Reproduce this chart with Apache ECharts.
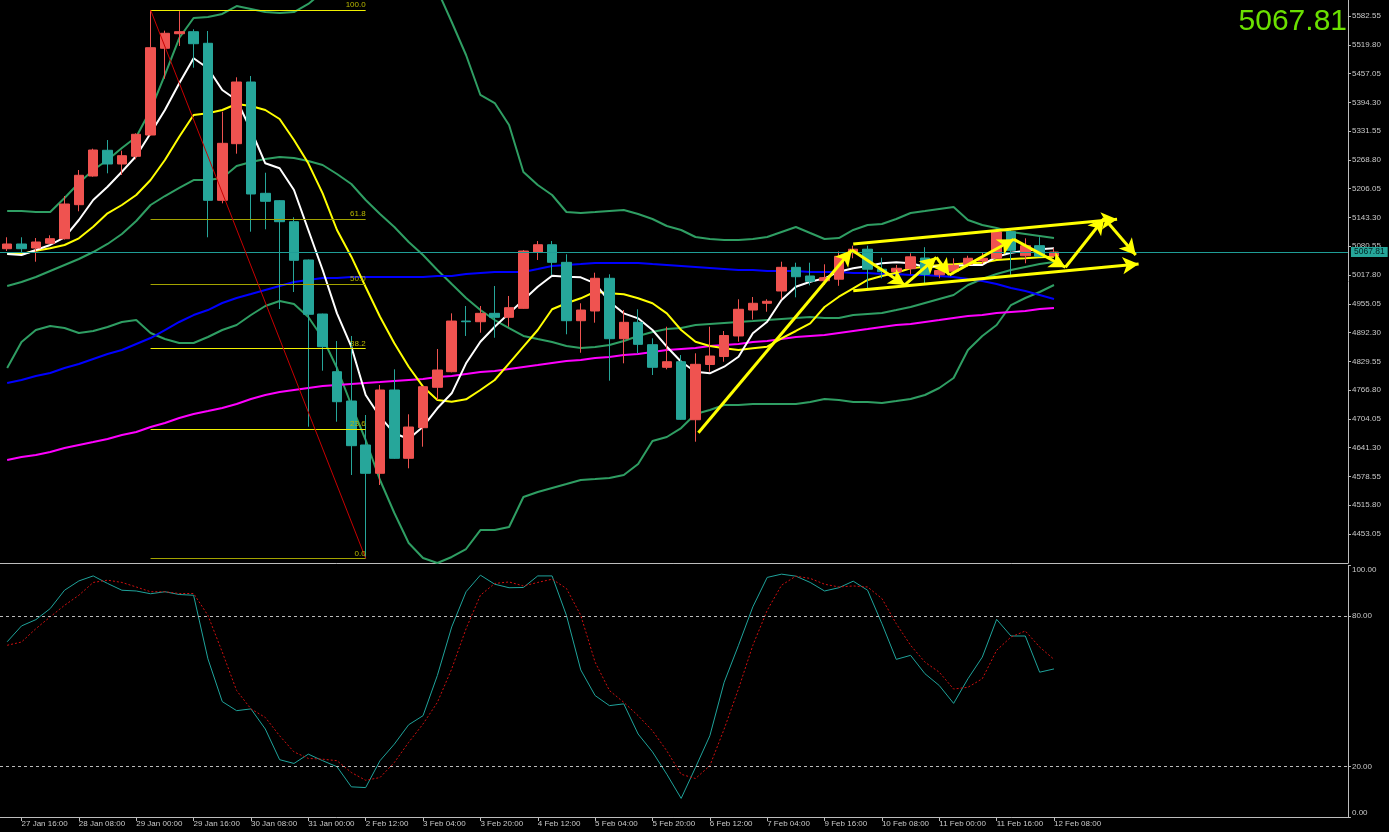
<!DOCTYPE html>
<html>
<head>
<meta charset="utf-8">
<script src="https://cdn.jsdelivr.net/npm/echarts@6/dist/echarts.min.js"></script>
<style>
html,body{margin:0;padding:0;background:#000;}
#chart{width:1389px;height:832px;}
</style>
</head>
<body>
<div id="chart"></div>
<script>
// ---------- DATA ----------
const barLabels = [
 '27 Jan 12:00','27 Jan 16:00','27 Jan 20:00','28 Jan 00:00','28 Jan 04:00','28 Jan 08:00','28 Jan 12:00','28 Jan 16:00',
 '28 Jan 20:00','29 Jan 00:00','29 Jan 04:00','29 Jan 08:00','29 Jan 12:00','29 Jan 16:00','29 Jan 20:00','30 Jan 00:00',
 '30 Jan 04:00','30 Jan 08:00','30 Jan 12:00','30 Jan 16:00','30 Jan 20:00','31 Jan 00:00','31 Jan 04:00','2 Feb 04:00',
 '2 Feb 08:00','2 Feb 12:00','2 Feb 16:00','2 Feb 20:00','3 Feb 00:00','3 Feb 04:00','3 Feb 08:00','3 Feb 12:00',
 '3 Feb 16:00','3 Feb 20:00','4 Feb 00:00','4 Feb 04:00','4 Feb 08:00','4 Feb 12:00','4 Feb 16:00','4 Feb 20:00',
 '5 Feb 00:00','5 Feb 04:00','5 Feb 08:00','5 Feb 12:00','5 Feb 16:00','5 Feb 20:00','6 Feb 00:00','6 Feb 04:00',
 '6 Feb 08:00','6 Feb 12:00','6 Feb 16:00','6 Feb 20:00','7 Feb 00:00','7 Feb 04:00','9 Feb 04:00','9 Feb 08:00',
 '9 Feb 12:00','9 Feb 16:00','9 Feb 20:00','10 Feb 00:00','10 Feb 04:00','10 Feb 08:00','10 Feb 12:00','10 Feb 16:00',
 '10 Feb 20:00','11 Feb 00:00','11 Feb 04:00','11 Feb 08:00','11 Feb 12:00','11 Feb 16:00','11 Feb 20:00','12 Feb 00:00',
 '12 Feb 04:00','12 Feb 08:00'
];
const futureSlots = 20;

const opens = [5075.1,5085.4,5076.6,5086.9,5096.9,5171.1,5233.6,5289.7,5259.8,5276.6,5323.0,5512.1,5543.9,5548.3,5523.0,5180.6,
 5304.1,5438.6,5195.9,5179.8,5134.0,5050.5,4932.7,4806.9,4743.0,4647.1,4585.4,4767.0,4618.1,4684.8,4772.9,4806.9,
 4917.4,4915.9,4934.2,4925.5,4945.1,5067.9,5083.8,5045.4,4918.1,4939.3,5010.6,4878.9,4914.6,4865.8,4816.5,4828.7,
 4702.2,4822.6,4840.0,4884.8,4941.4,4956.1,4982.9,5034.5,5015.6,5005.3,5008.6,5066.2,5074.0,5030.4,5025.0,5031.5,
 5054.8,5018.2,5026.0,5041.3,5048.3,5054.2,5112.2,5059.6,5081.7,5059.2];
const highs = [5100.0,5100.0,5098.4,5104.3,5190.0,5246.7,5293.2,5312.1,5288.8,5326.7,5595.6,5550.5,5593.0,5553.5,5549.8,5373.8,
 5448.8,5451.7,5240.8,5181.0,5143.6,5051.5,4933.5,4873.8,4884.8,4712.5,4777.9,4812.1,4714.0,4775.7,4856.4,4934.2,
 4950.2,4950.2,4993.8,4972.0,5072.3,5091.9,5091.9,5062.9,4956.1,5022.8,5019.3,4941.4,4943.0,4879.7,4905.0,4843.3,
 4847.0,4905.0,4895.7,4964.8,4969.8,4964.8,5046.8,5044.6,5044.6,5041.1,5069.0,5081.7,5081.7,5055.5,5039.6,5065.1,
 5078.4,5032.4,5054.2,5059.8,5066.8,5112.6,5115.9,5097.8,5100.2,5076.0];
const lows = [5070.1,5065.7,5046.8,5085.0,5095.0,5156.7,5232.1,5239.5,5235.8,5270.0,5322.0,5445.8,5517.1,5469.8,5100.0,5174.1,
 5282.3,5112.2,5117.4,4943.6,4980.7,4687.0,4809.1,4697.9,4581.7,4400.0,4559.9,4617.0,4596.3,4643.4,4745.2,4805.5,
 4884.8,4891.9,4881.0,4905.0,4944.0,5050.5,5017.8,4888.5,4848.3,4913.8,4787.3,4825.2,4847.0,4799.7,4812.1,4702.0,
 4654.3,4806.9,4828.7,4872.3,4920.7,4937.7,4964.8,4969.1,4995.3,4996.0,4994.2,5054.2,4988.8,5010.6,5017.8,5019.3,
 4996.0,5010.6,5019.3,5035.9,5041.7,5053.5,5017.8,5043.3,5057.5,5057.5];
const closes = [5085.4,5075.1,5089.7,5096.9,5172.6,5235.2,5290.3,5259.8,5277.9,5324.6,5513.4,5544.8,5548.3,5522.1,5180.6,5304.9,
 5438.6,5194.4,5178.5,5134.0,5049.8,4932.1,4861.4,4741.5,4645.6,4585.4,4767.0,4618.1,4686.3,4774.2,4810.6,4917.4,
 4915.9,4934.2,4925.5,4946.5,5070.1,5083.8,5045.4,4918.1,4941.4,5010.6,4878.9,4914.6,4866.6,4816.5,4828.7,4703.1,
 4823.0,4841.1,4885.8,4943.0,4956.1,4960.4,5034.5,5014.0,5004.0,5011.9,5058.5,5074.0,5030.4,5025.0,5032.4,5057.4,
 5018.8,5027.6,5038.9,5054.2,5054.2,5111.5,5071.6,5081.7,5058.8,5067.81];

const maWhite = [5063.6,5061.4,5072.3,5083.2,5100.0,5137.7,5181.3,5210.3,5243.0,5277.2,5326.7,5377.5,5435.8,5490.3,5468.5,5421.2,
 5399.3,5333.9,5261.3,5250.4,5203.1,5115.9,5028.7,4934.2,4861.4,4756.1,4708.8,4672.6,4660.2,4687.0,4727.1,4759.8,
 4825.2,4872.3,4905.0,4934.2,4963.2,4992.2,5016.2,5014.0,5012.7,4999.6,4959.5,4934.2,4923.3,4897.8,4861.4,4828.7,
 4806.9,4803.4,4817.8,4839.6,4890.6,4915.9,4963.2,4992.2,5003.1,5010.6,5025.0,5032.4,5037.4,5043.3,5045.4,5043.3,
 5035.9,5035.9,5037.4,5039.6,5039.6,5057.7,5066.4,5070.7,5073.8,5076.0];
const maYellow = [5063.6,5063.6,5070.7,5076.0,5083.2,5097.8,5123.1,5152.3,5170.4,5192.2,5224.9,5268.5,5319.3,5366.6,5370.3,5377.5,
 5390.6,5386.3,5377.5,5357.9,5312.1,5261.3,5195.9,5115.9,5057.7,4991.6,4926.8,4868.8,4817.8,4774.2,4745.2,4741.5,
 4746.7,4767.0,4788.8,4825.2,4861.4,4897.8,4943.0,4956.1,4967.0,4981.3,4977.9,4975.7,4967.0,4956.1,4934.2,4897.8,
 4872.3,4862.9,4857.9,4854.2,4857.9,4861.4,4879.7,4895.7,4912.4,4948.0,4970.4,4988.8,5006.9,5015.6,5022.8,5032.4,
 5035.9,5039.6,5041.1,5043.3,5044.6,5050.5,5052.7,5054.2,5056.3,5057.7];
const maBlue = [4782.3,4788.8,4797.5,4804.1,4815.0,4823.7,4834.6,4845.5,4854.2,4867.3,4880.4,4897.8,4915.3,4930.5,4941.4,4956.7,
 4967.6,4976.3,4985.1,4993.8,5002.5,5006.9,5011.2,5011.2,5013.4,5013.4,5013.4,5013.4,5013.4,5013.4,5015.6,5015.6,
 5019.9,5022.1,5024.3,5024.3,5024.3,5030.8,5037.4,5039.6,5041.7,5043.9,5043.9,5043.9,5043.9,5041.7,5039.6,5037.4,
 5035.2,5033.0,5030.8,5028.7,5028.7,5026.5,5026.5,5026.5,5024.3,5024.3,5024.3,5022.1,5022.1,5019.9,5019.9,5017.8,
 5017.8,5015.6,5013.4,5009.0,5004.7,4998.1,4989.4,4982.9,4974.2,4965.4];
const maMagenta = [4614.4,4620.9,4625.3,4631.8,4640.5,4647.1,4653.6,4660.2,4668.9,4675.4,4686.3,4695.0,4706.0,4714.7,4721.2,4727.8,
 4736.5,4747.4,4756.1,4762.6,4767.0,4771.4,4775.7,4777.9,4780.1,4782.3,4784.4,4786.6,4788.8,4791.0,4795.4,4797.5,
 4801.9,4806.3,4808.4,4812.8,4817.2,4821.5,4825.9,4830.2,4832.4,4836.8,4839.0,4843.3,4845.5,4849.9,4854.2,4856.4,
 4858.6,4862.9,4865.1,4867.3,4871.7,4873.8,4878.2,4882.6,4884.8,4886.9,4891.3,4895.7,4900.0,4904.4,4908.7,4910.9,
 4915.3,4919.6,4924.0,4928.4,4930.5,4934.9,4937.1,4939.3,4943.6,4945.8];
const bbUpper = [5157.3,5157.3,5155.1,5155.1,5185.7,5218.4,5246.7,5268.5,5294.7,5318.7,5377.5,5453.9,5534.5,5578.2,5580.3,5586.9,
 5604.3,5597.8,5591.2,5589.1,5591.2,5608.7,5634.8,5661.0,5682.8,5700.3,5709.0,5709.0,5700.3,5682.8,5639.2,5569.4,
 5497.5,5410.3,5392.8,5344.8,5242.4,5214.0,5192.2,5155.1,5153.0,5155.1,5157.3,5159.5,5150.8,5139.9,5124.6,5115.9,
 5100.6,5096.3,5094.1,5094.1,5096.3,5100.6,5111.5,5122.4,5109.3,5096.3,5098.4,5115.9,5126.8,5129.0,5139.9,5153.0,
 5157.3,5161.7,5166.0,5137.7,5126.8,5120.2,5111.5,5107.2,5102.8,5098.4];
const bbMiddle = [4993.8,5002.5,5013.4,5026.5,5039.6,5052.7,5067.9,5085.4,5107.2,5135.5,5170.4,5190.0,5207.5,5224.9,5224.9,5229.3,
 5255.4,5264.2,5270.7,5275.1,5272.9,5266.3,5257.6,5238.0,5216.2,5181.3,5150.8,5122.4,5089.7,5061.4,5028.7,4998.1,
 4967.6,4941.4,4919.6,4902.2,4884.8,4878.2,4871.7,4862.9,4858.6,4860.8,4865.1,4873.8,4884.8,4893.5,4900.0,4902.2,
 4908.7,4910.9,4913.1,4915.3,4917.4,4919.6,4921.8,4924.0,4926.2,4924.0,4924.0,4930.5,4932.7,4934.9,4941.4,4948.0,
 4956.7,4965.4,4974.2,4996.0,5009.0,5019.9,5028.7,5035.2,5041.7,5046.1];
const bbLower = [4815.0,4871.7,4897.8,4906.6,4902.2,4891.3,4895.7,4904.4,4915.3,4919.6,4891.3,4878.2,4869.5,4869.5,4882.6,4897.8,
 4908.7,4930.5,4950.2,4961.1,4954.5,4926.2,4880.4,4815.0,4734.3,4658.0,4570.8,4498.8,4433.4,4400.7,4389.8,4402.9,
 4420.3,4461.7,4461.7,4468.3,4533.7,4544.6,4553.3,4562.0,4570.8,4572.9,4575.1,4581.7,4605.6,4655.8,4664.5,4684.1,
 4714.7,4723.4,4734.3,4734.3,4736.5,4736.5,4736.5,4736.5,4740.8,4747.4,4745.2,4740.8,4740.8,4738.7,4743.0,4747.4,
 4756.1,4771.4,4793.2,4854.2,4884.8,4908.7,4952.3,4967.6,4980.7,4996.0];

const stochK = [69.7,76.0,78.5,82.9,90.2,93.9,95.9,92.9,90.2,89.9,88.8,89.6,88.5,88.2,62.9,45.9,
 42.3,43.0,35.0,22.8,21.3,25.0,22.4,20.0,12.0,11.7,22.4,29.0,36.7,40.3,56.3,75.6,
 89.6,96.2,92.6,91.2,91.3,95.9,95.9,80.2,58.5,48.3,44.3,45.0,33.0,25.9,17.0,7.4,
 19.7,32.3,53.6,68.3,83.6,95.3,96.6,95.8,93.3,89.9,91.2,93.8,90.2,76.9,62.7,64.3,
 57.0,52.3,45.2,55.0,63.6,78.6,72.0,72.0,57.6,58.9];
const stochD = [68.3,69.6,74.9,79.6,84.2,88.2,93.3,94.2,93.3,91.5,89.6,89.6,88.9,88.9,80.2,65.6,
 50.3,43.0,39.6,32.3,25.9,23.3,23.0,22.4,17.7,14.6,15.7,21.7,29.7,37.0,45.6,58.9,
 74.9,88.2,92.9,93.5,91.9,93.3,94.6,90.9,80.2,61.6,50.3,45.6,40.3,34.3,26.3,17.0,
 15.3,20.4,35.0,51.0,68.3,82.2,92.2,95.8,94.9,92.6,91.5,91.9,91.5,86.9,76.9,68.3,
 61.6,57.6,50.9,51.6,55.0,66.3,71.6,74.0,67.6,62.7];

const priceTicks = [4453.05,4515.80,4578.55,4641.30,4704.05,4766.80,4829.55,4892.30,4955.05,5017.80,
 5080.55,5143.30,5206.05,5268.80,5331.55,5394.30,5457.05,5519.80,5582.55];
const stochTicks = [0, 20, 80, 100];
const stochLevels = [20, 80];
const currentPrice = 5067.81;

// Fibonacci retracement (drawn from bar 10 high to bar 25 low)
const fibLabels = ['0.0','23.6','38.2','50.0','61.8','100.0'];
const fibPrices = [4400.0, 4682.5, 4857.5, 4998.0, 5139.5, 5595.6];
const fibColors = ['#a3a300','#f0f000','#f0f000','#a3a300','#a3a300','#f0f000'];
const fibStartBar = 10, fibEndBar = 25;

// Yellow hand-drawn arrows: [barFrom, priceFrom, barTo, priceTo]
const arrows = [
 [48.2, 4673.9, 58.9, 5072.3],
 [58.9, 5072.3, 62.6, 4996.0],
 [62.6, 4996.0, 64.8, 5056.4],
 [64.8, 5056.4, 65.7, 5017.8],
 [65.7, 5017.8, 70.2, 5095.6],
 [70.2, 5095.6, 73.8, 5034.6],
 [73.8, 5034.6, 76.5, 5141.4],
 [76.5, 5141.4, 78.7, 5061.4],
 [59.0, 5085.4, 77.4, 5139.2],
 [59.0, 4983.5, 78.9, 5041.7]
];

// ---------- BUILD ----------
const N = barLabels.length + futureSlots;
const categories = barLabels.concat(new Array(futureSlots).fill(''));
const candleData = opens.map((o, i) => [o, closes[i], lows[i], highs[i]]);

const BAR = 14.375;
const gridLeft = 3.9 - BAR / 2;
const gridWidth = N * BAR;
const FONT = 'Liberation Sans';
const AXC = '#bdbdbd';

const labelShow = (idx) => idx % 4 === 1 && idx < barLabels.length;

function lineSeries(name, data, color, width) {
  return { name, type: 'line', xAxisIndex: 0, yAxisIndex: 0, data, symbol: 'none',
    lineStyle: { color, width }, z: 3, silent: true, clip: true };
}

const fibLines = fibPrices.map((p, i) => [
  { coord: [fibStartBar, p], lineStyle: { color: fibColors[i], width: 1, type: 'solid' },
    label: { show: true, formatter: fibLabels[i], position: 'insideEndTop', color: '#b8b800',
             fontSize: 8, fontFamily: FONT, distance: [0, 1] } },
  { coord: [fibEndBar, p] }
]);
const diag = [[
  { coord: [fibStartBar, fibPrices[5]], lineStyle: { color: '#c80000', width: 1, type: 'solid' }, label: { show: false } },
  { coord: [fibEndBar, fibPrices[0]] }
]];
const arrowLines = arrows.map(a => [
  { coord: [a[0], a[1]] }, { coord: [a[2], a[3]] }
]);

const option = {
  backgroundColor: '#000000',
  animation: false,
  title: {
    text: '5067.81', right: 42, top: 7, padding: 0,
    textStyle: { color: '#6be000', fontSize: 30, fontWeight: 'normal', fontFamily: FONT }
  },
  grid: [
    { left: gridLeft, width: gridWidth, top: 0, height: 563 },
    { left: gridLeft, width: gridWidth, top: 565.6, height: 251.4 }
  ],
  xAxis: [
    { type: 'category', gridIndex: 0, data: categories, boundaryGap: true,
      axisLine: { show: true, onZero: false, lineStyle: { color: AXC, width: 1 } },
      axisTick: { show: false }, axisLabel: { show: false }, splitLine: { show: false } },
    { type: 'value', gridIndex: 0, min: -0.5, max: N - 0.5, show: false,
      axisLine: { show: false, onZero: false } },
    { type: 'category', gridIndex: 1, data: categories, boundaryGap: true,
      axisLine: { show: true, onZero: false, lineStyle: { color: AXC, width: 1 } },
      axisTick: { show: true, alignWithLabel: true, interval: labelShow, length: 4, lineStyle: { color: AXC } },
      axisLabel: { show: true, interval: labelShow, color: '#c8c8c8', fontSize: 8, fontFamily: FONT,
                   align: 'left', margin: 3 },
      splitLine: { show: false } }
  ],
  yAxis: [
    { type: 'value', gridIndex: 0, position: 'right', min: 4389.8, max: 5617.4,
      axisLine: { show: true, onZero: false, lineStyle: { color: AXC, width: 1 } },
      axisTick: { show: true, length: 3, customValues: priceTicks, lineStyle: { color: AXC } },
      axisLabel: { show: true, customValues: priceTicks, formatter: v => v.toFixed(2),
                   color: '#c8c8c8', fontSize: 8, fontFamily: FONT, margin: 4 },
      splitLine: { show: false } },
    { type: 'value', gridIndex: 1, position: 'right', min: 0, max: 100,
      axisLine: { show: true, onZero: false, lineStyle: { color: AXC, width: 1 } },
      axisTick: { show: true, length: 3, customValues: stochTicks, lineStyle: { color: AXC } },
      axisLabel: { show: true, customValues: stochTicks, formatter: v => v.toFixed(2),
                   color: '#c8c8c8', fontSize: 8, fontFamily: FONT, margin: 4,
                   verticalAlignMaxLabel: 'top', verticalAlignMinLabel: 'bottom' },
      splitLine: { show: false } }
  ],
  series: [
    lineSeries('BB Upper', bbUpper, '#2f9e63', 2),
    lineSeries('BB Middle', bbMiddle, '#2f9e63', 2),
    lineSeries('BB Lower', bbLower, '#2f9e63', 2),
    lineSeries('MA Magenta', maMagenta, '#ff00ff', 2),
    lineSeries('MA Blue', maBlue, '#0000ff', 2),
    {
      name: 'XAUUSD', type: 'candlestick', xAxisIndex: 0, yAxisIndex: 0, data: candleData,
      barWidth: 10, z: 4, silent: true,
      itemStyle: { color: '#ef5350', color0: '#26a69a', borderColor: '#ef5350', borderColor0: '#26a69a', borderWidth: 1 },
      markLine: {
        silent: true, symbol: ['none', 'none'], animation: false,
        lineStyle: { color: '#1f9d96', width: 1, type: 'solid' },
        label: { show: true, position: 'end', formatter: currentPrice.toFixed(2), color: '#002222',
                 backgroundColor: '#26a69a', padding: [1, 3, 0, 3], fontSize: 8.5, fontFamily: FONT, distance: 3 },
        data: [{ yAxis: currentPrice }]
      }
    },
    lineSeries('MA Yellow', maYellow, '#ffff00', 2),
    lineSeries('MA White', maWhite, '#ffffff', 2),
    {
      name: 'fib', type: 'line', xAxisIndex: 1, yAxisIndex: 0, data: [], z: 2,
      markLine: { silent: true, symbol: ['none', 'none'], animation: false, data: fibLines.concat(diag) }
    },
    {
      name: 'arrows', type: 'line', xAxisIndex: 1, yAxisIndex: 0, data: [], z: 6,
      markLine: { silent: true, symbol: ['none', 'arrow'], symbolSize: [13, 16], animation: false,
                  lineStyle: { color: '#ffff00', width: 3, type: 'solid' },
                  itemStyle: { color: '#ffff00' },
                  label: { show: false }, data: arrowLines }
    },
    {
      name: '%K', type: 'line', xAxisIndex: 2, yAxisIndex: 1, data: stochK, symbol: 'none',
      lineStyle: { color: '#1fa39b', width: 1 }, silent: true,
      markLine: { silent: true, symbol: ['none', 'none'], animation: false,
                  lineStyle: { color: '#bbbbbb', width: 1, type: [3, 3] }, label: { show: false },
                  data: stochLevels.map(v => ({ yAxis: v })) }
    },
    {
      name: '%D', type: 'line', xAxisIndex: 2, yAxisIndex: 1, data: stochD, symbol: 'none',
      lineStyle: { color: '#d01010', width: 1, type: [2, 2] }, silent: true
    }
  ]
};

const chart = echarts.init(document.getElementById('chart'), null, { renderer: 'canvas' });
chart.setOption(option);
</script>
</body>
</html>
